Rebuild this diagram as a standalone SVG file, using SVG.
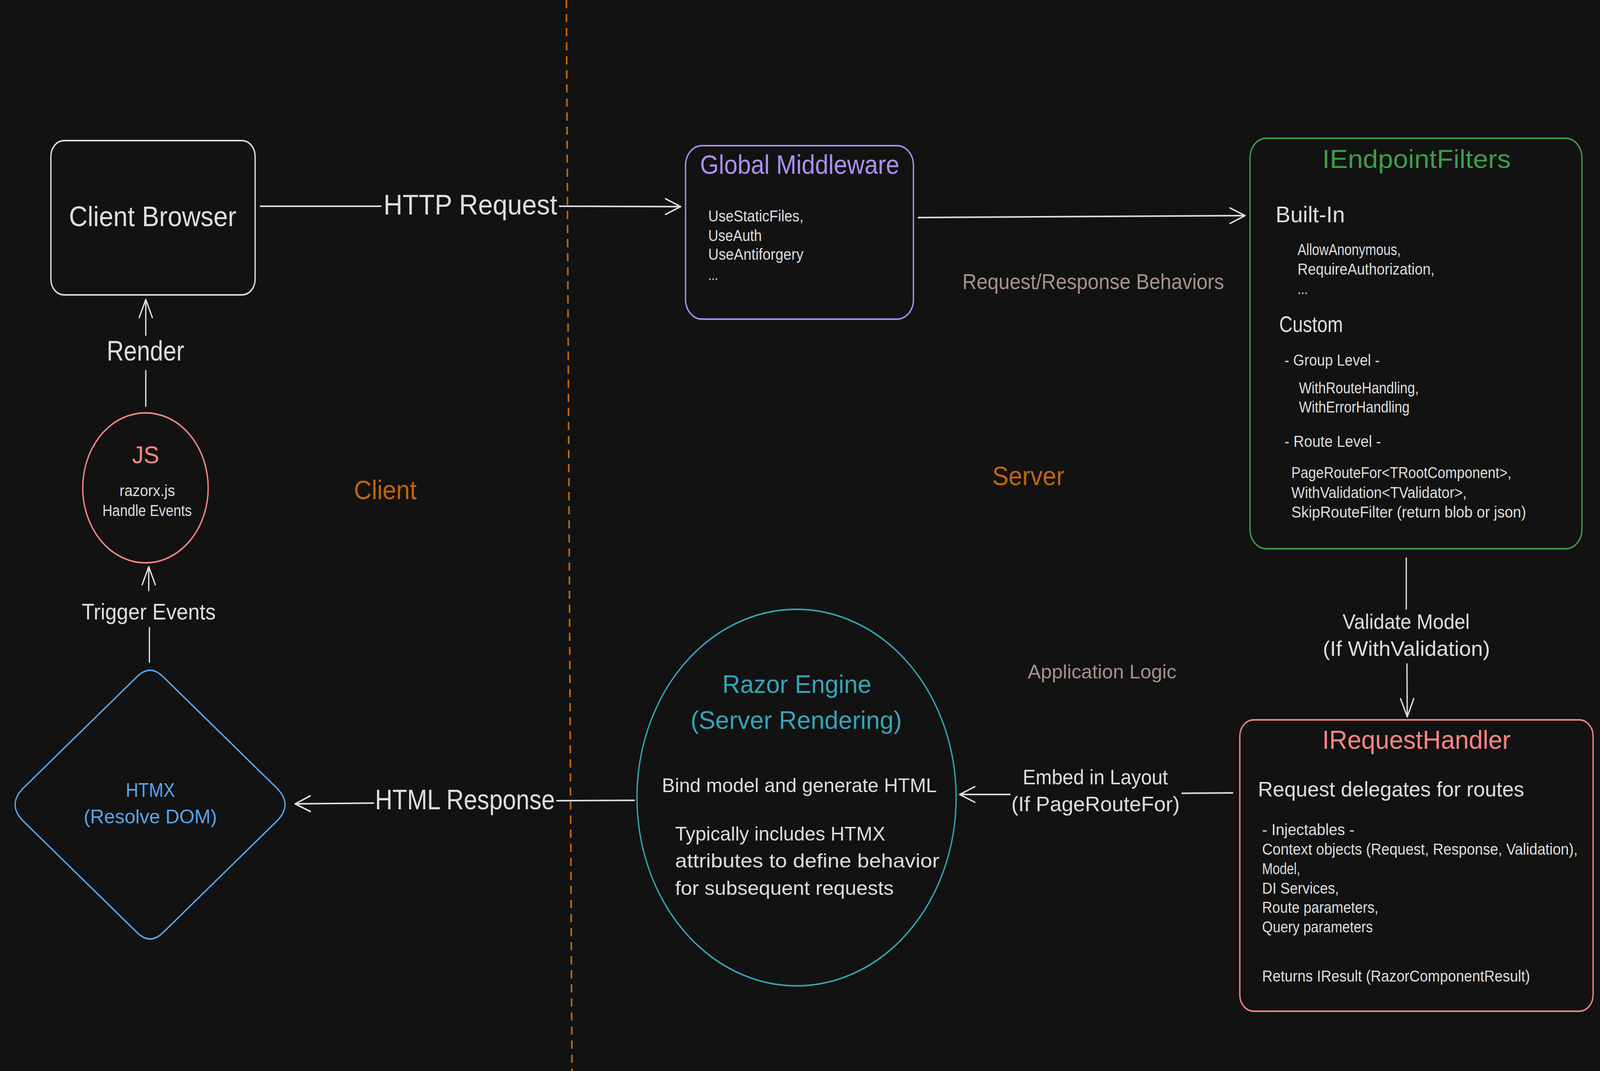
<svg xmlns="http://www.w3.org/2000/svg" width="4873" height="2742" viewBox="0 0 4873 2742" preserveAspectRatio="none" style="width:100vw;height:100vh;display:block">
<defs>
<style>
text{font-family:"Liberation Sans","Open Sans",sans-serif;}
.w{fill:#dedede;}
.ln{stroke:#dedede;stroke-width:4;fill:none;stroke-linecap:round;}
.box{fill:#121212;stroke-width:4;}
.b40{font-size:40px;}
</style>
<marker id="ah" markerUnits="userSpaceOnUse" markerWidth="52" markerHeight="46" viewBox="0 0 52 46" refX="49" refY="23" orient="auto">
<path d="M3,3 L49,23 L3,43" fill="none" stroke="#dedede" stroke-width="4" stroke-linecap="round" stroke-linejoin="round"/>
</marker>
</defs>
<rect x="0" y="0" width="4873" height="2742" fill="#121212"/>

<g id="divider">
<line x1="1725" y1="0" x2="1742" y2="2742" stroke="#c0650e" stroke-width="5" stroke-dasharray="21 15"/>
</g>

<g id="region-labels">
<text x="1078" y="1278" font-size="68" fill="#c0650e" textLength="191" lengthAdjust="spacingAndGlyphs">Client</text>
<text x="3022" y="1242" font-size="68" fill="#c0650e" textLength="220" lengthAdjust="spacingAndGlyphs">Server</text>
<text x="2931" y="740" font-size="56" fill="#a8918a" textLength="797" lengthAdjust="spacingAndGlyphs">Request/Response Behaviors</text>
<text x="3130" y="1737" font-size="50" fill="#a8918a" textLength="453" lengthAdjust="spacingAndGlyphs">Application Logic</text>
</g>

<g id="connectors">
<line class="ln" x1="793" y1="528" x2="1160" y2="528"/>
<line class="ln" x1="1704" y1="528" x2="2073" y2="529" marker-end="url(#ah)"/>
<text class="w" x="1168" y="549" font-size="72" textLength="529" lengthAdjust="spacingAndGlyphs">HTTP Request</text>

<line class="ln" x1="2797" y1="557" x2="3792" y2="552" marker-end="url(#ah)"/>

<line class="ln" x1="4283" y1="1429" x2="4283" y2="1559"/>
<line class="ln" x1="4285" y1="1700" x2="4286" y2="1835" marker-end="url(#ah)"/>
<text class="w" x="4089" y="1610" font-size="54" textLength="387" lengthAdjust="spacingAndGlyphs">Validate Model</text>
<text class="w" x="4029" y="1679" font-size="54" textLength="509" lengthAdjust="spacingAndGlyphs">(If WithValidation)</text>

<line class="ln" x1="3754" y1="2030" x2="3600" y2="2031"/>
<line class="ln" x1="3076" y1="2034" x2="2923" y2="2034" marker-end="url(#ah)"/>
<text class="w" x="3115" y="2008" font-size="54" textLength="442" lengthAdjust="spacingAndGlyphs">Embed in Layout</text>
<text class="w" x="3080" y="2077" font-size="54" textLength="513" lengthAdjust="spacingAndGlyphs">(If PageRouteFor)</text>

<line class="ln" x1="1932" y1="2049" x2="1696" y2="2050"/>
<line class="ln" x1="1138" y1="2056" x2="899" y2="2058" marker-end="url(#ah)"/>
<text class="w" x="1142" y="2072" font-size="72" textLength="548" lengthAdjust="spacingAndGlyphs">HTML Response</text>

<line class="ln" x1="455" y1="1695" x2="455" y2="1607"/>
<line class="ln" x1="453" y1="1512" x2="453" y2="1451" marker-end="url(#ah)"/>
<text class="w" x="249" y="1586" font-size="58" textLength="408" lengthAdjust="spacingAndGlyphs">Trigger Events</text>

<line class="ln" x1="444" y1="1040" x2="444" y2="949"/>
<line class="ln" x1="444" y1="858" x2="444" y2="767" marker-end="url(#ah)"/>
<text class="w" x="325" y="923" font-size="72" textLength="236" lengthAdjust="spacingAndGlyphs">Render</text>
</g>

<g id="client-browser">
<rect class="box" x="155" y="360" width="622" height="395" rx="40" stroke="#dedede"/>
<text class="w" x="210" y="579" font-size="72" textLength="510" lengthAdjust="spacingAndGlyphs">Client Browser</text>
</g>

<g id="js">
<ellipse class="box" cx="443" cy="1249" rx="191" ry="192" stroke="#ff8585"/>
<text x="402" y="1186" font-size="62" fill="#ff8585" textLength="83" lengthAdjust="spacingAndGlyphs">JS</text>
<text class="w b40" x="364" y="1270" textLength="169" lengthAdjust="spacingAndGlyphs">razorx.js</text>
<text class="w b40" x="312" y="1321" textLength="272" lengthAdjust="spacingAndGlyphs">Handle Events</text>
</g>

<g id="htmx">
<path class="box" stroke="#58a6ec" d="M418,1732 Q457,1700 496,1732 L841,2016 Q895,2060 841,2104 L496,2388 Q457,2420 418,2388 L73,2104 Q19,2060 73,2016 Z"/>
<text x="383" y="2040" font-size="50" fill="#58a6ec" textLength="150" lengthAdjust="spacingAndGlyphs">HTMX</text>
<text x="255" y="2108" font-size="50" fill="#58a6ec" textLength="406" lengthAdjust="spacingAndGlyphs">(Resolve DOM)</text>
</g>

<g id="global-middleware">
<rect class="box" x="2088" y="373" width="694" height="444" rx="50" stroke="#ae8ff7"/>
<text x="2132" y="445" font-size="68" fill="#ae8ff7" textLength="607" lengthAdjust="spacingAndGlyphs">Global Middleware</text>
<text class="w b40" x="2157" y="567" textLength="290" lengthAdjust="spacingAndGlyphs">UseStaticFiles,</text>
<text class="w b40" x="2157" y="617" textLength="163" lengthAdjust="spacingAndGlyphs">UseAuth</text>
<text class="w b40" x="2157" y="665" textLength="290" lengthAdjust="spacingAndGlyphs">UseAntiforgery</text>
<text class="w b40" x="2157" y="717" textLength="30" lengthAdjust="spacingAndGlyphs">...</text>
</g>

<g id="endpoint-filters">
<rect class="box" x="3807" y="354" width="1011" height="1051" rx="50" stroke="#3d9d4a"/>
<text x="4027" y="430" font-size="66" fill="#3d9d4a" textLength="574" lengthAdjust="spacingAndGlyphs">IEndpointFilters</text>
<text class="w" x="3885" y="569" font-size="58" textLength="211" lengthAdjust="spacingAndGlyphs">Built-In</text>
<text class="w b40" x="3952" y="653" textLength="314" lengthAdjust="spacingAndGlyphs">AllowAnonymous,</text>
<text class="w b40" x="3952" y="703" textLength="417" lengthAdjust="spacingAndGlyphs">RequireAuthorization,</text>
<text class="w b40" x="3952" y="753" textLength="31" lengthAdjust="spacingAndGlyphs">...</text>
<text class="w" x="3896" y="850" font-size="58" textLength="194" lengthAdjust="spacingAndGlyphs">Custom</text>
<text class="w b40" x="3912" y="936" textLength="290" lengthAdjust="spacingAndGlyphs">- Group Level -</text>
<text class="w b40" x="3956" y="1007" textLength="365" lengthAdjust="spacingAndGlyphs">WithRouteHandling,</text>
<text class="w b40" x="3956" y="1056" textLength="337" lengthAdjust="spacingAndGlyphs">WithErrorHandling</text>
<text class="w b40" x="3912" y="1144" textLength="294" lengthAdjust="spacingAndGlyphs">- Route Level -</text>
<text class="w b40" x="3933" y="1224" textLength="670" lengthAdjust="spacingAndGlyphs">PageRouteFor&lt;TRootComponent&gt;,</text>
<text class="w b40" x="3933" y="1275" textLength="534" lengthAdjust="spacingAndGlyphs">WithValidation&lt;TValidator&gt;,</text>
<text class="w b40" x="3933" y="1325" textLength="715" lengthAdjust="spacingAndGlyphs">SkipRouteFilter (return blob or json)</text>
</g>

<g id="request-handler">
<rect class="box" x="3776" y="1843" width="1076" height="746" rx="42" stroke="#ff8585"/>
<text x="4027" y="1917" font-size="66" fill="#ff8585" textLength="574" lengthAdjust="spacingAndGlyphs">IRequestHandler</text>
<text class="w" x="3831" y="2039" font-size="54" textLength="811" lengthAdjust="spacingAndGlyphs">Request delegates for routes</text>
<text class="w b40" x="3844" y="2138" textLength="281" lengthAdjust="spacingAndGlyphs">- Injectables -</text>
<text class="w b40" x="3844" y="2188" textLength="961" lengthAdjust="spacingAndGlyphs">Context objects (Request, Response, Validation),</text>
<text class="w b40" x="3844" y="2238" textLength="116" lengthAdjust="spacingAndGlyphs">Model,</text>
<text class="w b40" x="3844" y="2288" textLength="234" lengthAdjust="spacingAndGlyphs">DI Services,</text>
<text class="w b40" x="3844" y="2337" textLength="354" lengthAdjust="spacingAndGlyphs">Route parameters,</text>
<text class="w b40" x="3844" y="2387" textLength="337" lengthAdjust="spacingAndGlyphs">Query parameters</text>
<text class="w b40" x="3844" y="2513" textLength="816" lengthAdjust="spacingAndGlyphs">Returns IResult (RazorComponentResult)</text>
</g>

<g id="razor-engine">
<ellipse class="box" cx="2426" cy="2042" rx="486" ry="482" stroke="#34a5b8"/>
<text x="2200" y="1774" font-size="64" fill="#34a5b8" textLength="454" lengthAdjust="spacingAndGlyphs">Razor Engine</text>
<text x="2103" y="1866" font-size="64" fill="#34a5b8" textLength="644" lengthAdjust="spacingAndGlyphs">(Server Rendering)</text>
<text class="w" x="2016" y="2028" font-size="50" textLength="837" lengthAdjust="spacingAndGlyphs">Bind model and generate HTML</text>
<text class="w" x="2056" y="2152" font-size="50" textLength="640" lengthAdjust="spacingAndGlyphs">Typically includes HTMX</text>
<text class="w" x="2056" y="2221" font-size="50" textLength="805" lengthAdjust="spacingAndGlyphs">attributes to define behavior</text>
<text class="w" x="2056" y="2291" font-size="50" textLength="666" lengthAdjust="spacingAndGlyphs">for subsequent requests</text>
</g>
</svg>
